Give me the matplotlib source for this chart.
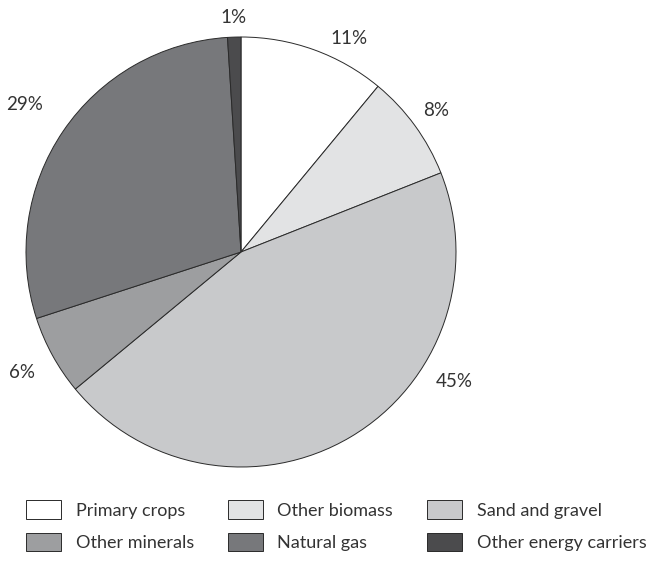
import numpy as np
import matplotlib
matplotlib.use('Agg')
from matplotlib import pyplot as plt
from matplotlib.patches import Patch

plt.rcParams['font.family'] = ['Lato', 'DejaVu Sans']

# data
categories = ['Primary crops', 'Other biomass', 'Sand and gravel',
              'Other minerals', 'Natural gas', 'Other energy carriers']
shares = [11, 8, 45, 6, 29, 1]
colors = ['#ffffff', '#e2e3e4', '#c8c9cb', '#9d9ea0', '#77787b', '#4b4b4d']

fig = plt.figure(figsize=(6.52, 5.63), dpi=100)
ax = fig.add_axes([26/652, 96/563, 430/652, 430/563])

wedges, texts, autotexts = ax.pie(
    shares, colors=colors, startangle=90, counterclock=False,
    radius=1.0, autopct='%d%%', pctdistance=1.12,
    wedgeprops=dict(edgecolor='#2a2a2a', linewidth=0.7),
    textprops=dict(fontsize=13.5, color='#333333'))

# a few labels sit a bit away from the slice middle
shift = {0: (-7, 1.11), 2: (28, 1.16), 3: (0, 1.16), 4: (0, 1.22), 5: (0, 1.09)}
for i, t in enumerate(autotexts):
    w = wedges[i]
    mid = (w.theta1 + w.theta2) / 2
    if i in shift:
        d_ang, dist = shift[i]
        a = np.deg2rad(mid + d_ang)
        t.set_position((dist*np.cos(a), dist*np.sin(a)))
    t.set_ha('center')
    t.set_va('center')

ax.set_xlim(-1, 1)
ax.set_ylim(-1, 1)
ax.set_aspect('equal')
ax.axis('off')

handles = [Patch(facecolor=c, edgecolor='#2a2a2a', linewidth=0.7) for c in colors]
order = [0, 3, 1, 4, 2, 5]
fig.legend([handles[i] for i in order], [categories[i] for i in order],
           ncol=3, loc='upper left', bbox_to_anchor=(10/652, 1 - 484/563),
           frameon=False, fontsize=13, handlelength=1.94, handleheight=1.22,
           handletextpad=0.8, columnspacing=1.88, labelspacing=0.75,
           labelcolor='#333333')

fig.savefig('out.png', dpi=100, facecolor='white')
